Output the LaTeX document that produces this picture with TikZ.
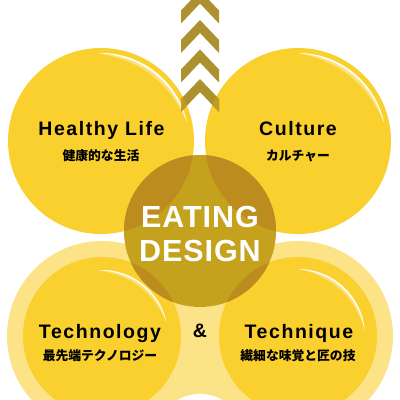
\documentclass[tikz,border=0pt]{standalone}
\usepackage{fontspec}
\setmainfont{Liberation Sans}
\newfontfamily\latfont[LetterSpace=8]{Liberation Sans}
\newfontfamily\eatfont[LetterSpace=3]{Liberation Sans}
\newfontfamily\jpfont{Noto Sans CJK JP}
\definecolor{ylw}{HTML}{F9D02E}
\definecolor{pale}{HTML}{FCE388}
\definecolor{chev}{HTML}{AD912E}
\definecolor{chevov}{HTML}{C39B23}
\definecolor{core}{HTML}{C4A21D}
\definecolor{coreov}{HTML}{BD8C1F}
\tikzset{
  ltitle/.style={anchor=base, text=black, font=\latfont\bfseries\fontsize{19.5}{21}\selectfont, inner sep=0pt},
  jtitle/.style={anchor=center, text=black, font=\jpfont\bfseries\fontsize{12.8}{14}\selectfont, inner sep=0pt},
  etitle/.style={anchor=base, text=white, font=\eatfont\bfseries\fontsize{30.5}{32}\selectfont, inner sep=0pt},
}
\begin{document}
\begin{tikzpicture}[x=1pt,y=1pt]
\useasboundingbox (0,0) rectangle (400,400);
\fill[white] (0,0) rectangle (400,400);
% bottom filler and white cap
\fill[pale] (200,0) circle (93);
\fill[white] (200,-40) circle (46);
% bottom halos and circles
\fill[pale] (102,64) circle (95);
\fill[pale] (298,64) circle (95);
\fill[ylw] (102,64) circle (79);
\fill[ylw] (298,64) circle (79);
% top circles
\fill[ylw] (101,259) circle (93);
\fill[ylw] (298,259) circle (93);
% highlights
\foreach \cx/\cy/\r/\aa/\ab/\h in {101/259/88/92/12/40, 298/259/88/90/12/39, 102/64/66/94/12/41, 298/64/67/90/5/42.5}{
  \fill[white,opacity=0.35] ([shift={(\aa:\r)}]\cx,\cy) arc[start angle=\aa,end angle=\ab,radius=\r] to[bend right={\h-12}] ([shift={(\aa:\r)}]\cx,\cy);
  \fill[white,opacity=0.9] ([shift={(\aa:\r)}]\cx,\cy) arc[start angle=\aa,end angle=\ab,radius=\r] to[bend right={\h-6}] ([shift={(\aa:\r)}]\cx,\cy);
}
% chevrons
\fill[chev] \foreach \a in {-9.5,20,49.5,79}{
  (200,{400-(\a)}) -- (219,{400-(\a)-20}) -- (219,{400-(\a)-33}) -- (200,{400-(\a)-13}) -- (181,{400-(\a)-33}) -- (181,{400-(\a)-20}) -- cycle};
\begin{scope}
  \clip (101,259) circle (93) (298,259) circle (93);
  \fill[chevov] \foreach \a in {49.5,79}{
    (200,{400-(\a)}) -- (219,{400-(\a)-20}) -- (219,{400-(\a)-33}) -- (200,{400-(\a)-13}) -- (181,{400-(\a)-33}) -- (181,{400-(\a)-20}) -- cycle};
\end{scope}
% core circle
\fill[core] (200,169) circle (76);
\begin{scope}
  \clip (200,169) circle (76);
  \fill[coreov] (101,259) circle (93) (298,259) circle (93) (102,64) circle (79) (298,64) circle (79);
\end{scope}
% texts
\node[ltitle] (hl) at (101.5,264) {Healthy Life};
\node[jtitle] (hlj) at (101,244) {健康的な生活};
\node[ltitle] (cu) at (298,264) {Culture};
\node[jtitle] (cuj) at (298,244) {カルチャー};
\node[etitle] (eat) at (200,172) {EATING};
\node[etitle] (des) at (200,138) {DESIGN};
\node[ltitle] (te) at (100,62) {Technology};
\node[jtitle] (tej) at (100,44) {最先端テクノロジー};
\node[ltitle] (amp) at (200,63) {\&};
\node[ltitle] (tq) at (299,62) {Technique};
\node[jtitle] (tqj) at (298,44) {繊細な味覚と匠の技};
\end{tikzpicture}
\end{document}
